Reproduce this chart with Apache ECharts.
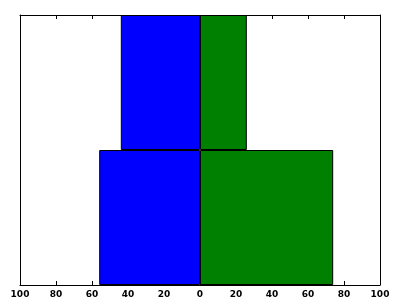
<!DOCTYPE html>
<html><head><meta charset="utf-8">
<script src="https://cdn.jsdelivr.net/npm/echarts@6/dist/echarts.min.js"></script>
<style>html,body{margin:0;padding:0;background:#fff}#c{width:400px;height:300px}</style>
</head><body><div id="c"></div>
<script>
var categories = ['Group 1', 'Group 2'];
var leftValues = [56, 44];
var rightValues = [74, 26];
var xTicks = [-100, -80, -60, -40, -20, 0, 20, 40, 60, 80, 100];

var chart = echarts.init(document.getElementById('c'), null, {renderer: 'canvas'});
var axisCommon = {
  type: 'value', min: -100, max: 100, interval: 20,
  axisLine: {show: true, lineStyle: {color: '#000', width: 1}},
  axisTick: {show: true, inside: true, length: 4, lineStyle: {color: '#000'}},
  splitLine: {show: false}
};
chart.setOption({
  animation: false,
  grid: {left: 20, right: 20, top: 15, bottom: 15, containLabel: false, show: false},
  xAxis: [
    Object.assign({}, axisCommon, {
      position: 'bottom',
      axisLabel: {show: true, color: '#000', fontFamily: 'DejaVu Sans', fontWeight: 'bold', fontSize: 9, margin: 5,
        formatter: function (v) { return String(Math.abs(v)); }}
    }),
    Object.assign({}, axisCommon, {position: 'top', axisLabel: {show: false}})
  ],
  yAxis: [
    {type: 'category', data: categories, position: 'left',
     axisLine: {show: true, onZero: false, lineStyle: {color: '#000'}}, axisTick: {show: false}, axisLabel: {show: false}},
    {type: 'category', data: categories, position: 'right',
     axisLine: {show: true, onZero: false, lineStyle: {color: '#000'}}, axisTick: {show: false}, axisLabel: {show: false}}
  ],
  series: [
    {type: 'bar', stack: 's', barWidth: '100%', data: leftValues.map(function (v) { return -v; }),
     itemStyle: {color: '#0000ff', borderColor: '#000', borderWidth: 1}},
    {type: 'bar', stack: 's', barWidth: '100%', data: rightValues,
     itemStyle: {color: '#008000', borderColor: '#000', borderWidth: 1}}
  ]
});
</script></body></html>
